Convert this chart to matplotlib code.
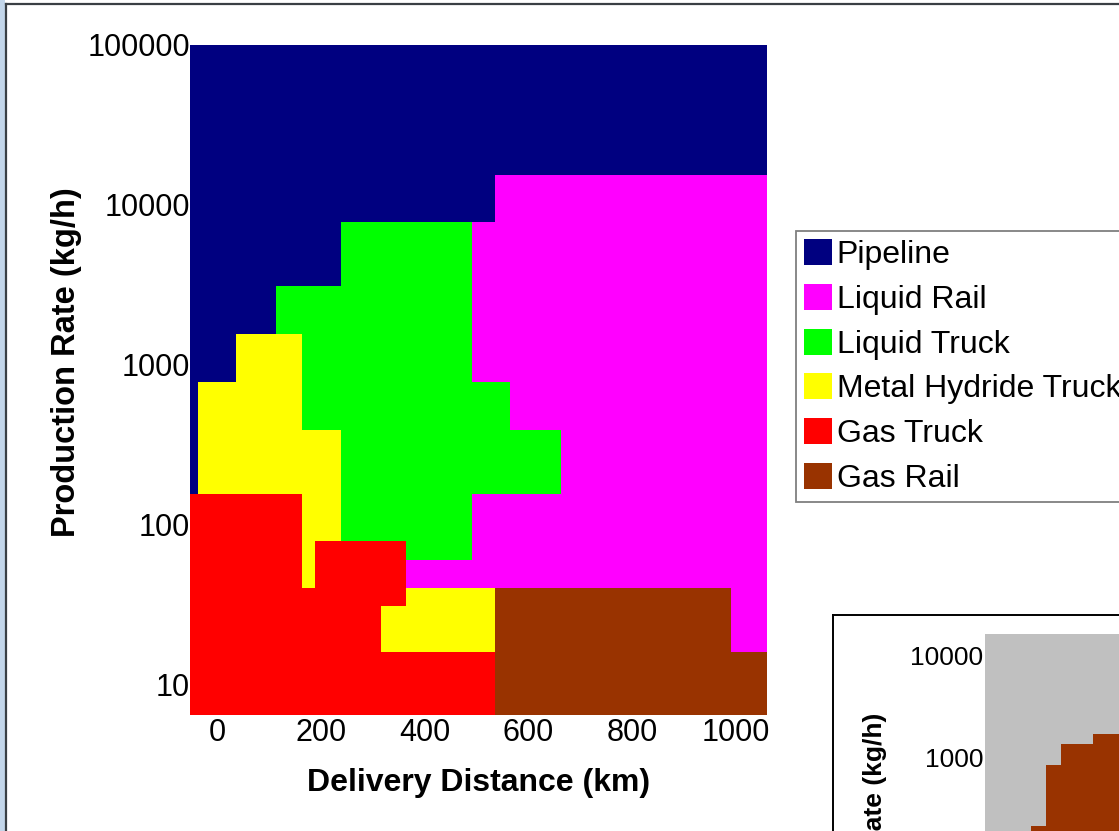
import numpy as np
import matplotlib
matplotlib.use("Agg")
import matplotlib.pyplot as plt
from matplotlib.colors import ListedColormap
from matplotlib.patches import Patch, Rectangle
from matplotlib.lines import Line2D

plt.rcParams['font.family'] = ['Liberation Sans', 'DejaVu Sans']

# delivery options (legend order) and their fill colours
modes = ["Pipeline", "Liquid Rail", "Liquid Truck", "Metal Hydride Truck", "Gas Truck", "Gas Rail"]
mode_colors = ["#000080", "#ff00ff", "#00ff00", "#ffff00", "#ff0000", "#993300"]

# cell edges of the main map
dist_edges = [-53, -38, 36, 113, 163, 188, 238, 316, 364, 491, 536, 565, 663, 991, 1061]
rate_edges = [100000, 15350, 7800, 3100, 1550, 776, 388, 155, 79, 60, 40, 31, 15.8, 6.4]  # top -> bottom

# cheapest mode per cell, rows top -> bottom
# 0 pipeline, 1 liquid rail, 2 liquid truck, 3 metal hydride, 4 gas truck, 5 gas rail
best_mode = [
    [0, 0, 0, 0, 0, 0, 0, 0, 0, 0, 0, 0, 0, 0],
    [0, 0, 0, 0, 0, 0, 0, 0, 0, 0, 1, 1, 1, 1],
    [0, 0, 0, 0, 0, 0, 2, 2, 2, 1, 1, 1, 1, 1],
    [0, 0, 0, 2, 2, 2, 2, 2, 2, 1, 1, 1, 1, 1],
    [0, 0, 3, 3, 2, 2, 2, 2, 2, 1, 1, 1, 1, 1],
    [0, 3, 3, 3, 2, 2, 2, 2, 2, 2, 2, 1, 1, 1],
    [0, 3, 3, 3, 3, 3, 2, 2, 2, 2, 2, 2, 1, 1],
    [4, 4, 4, 4, 3, 3, 2, 2, 2, 1, 1, 1, 1, 1],
    [4, 4, 4, 4, 3, 4, 4, 4, 2, 1, 1, 1, 1, 1],
    [4, 4, 4, 4, 3, 4, 4, 4, 1, 1, 1, 1, 1, 1],
    [4, 4, 4, 4, 4, 4, 4, 4, 3, 3, 5, 5, 5, 1],
    [4, 4, 4, 4, 4, 4, 4, 3, 3, 3, 5, 5, 5, 1],
    [4, 4, 4, 4, 4, 4, 4, 4, 4, 4, 5, 5, 5, 5],
]

# second (partly visible) map: 0 = other, 1 = gas rail
inset_dist_edges = [-53, 88, 134, 179, 277, 1061]
inset_rate_edges = [16500, 1690, 1345, 834, 207, 6.4]
inset_mode = [
    [0, 0, 0, 0, 0],
    [0, 0, 0, 0, 1],
    [0, 0, 0, 1, 1],
    [0, 0, 1, 1, 1],
    [0, 1, 1, 1, 1],
]

W, H = 1119, 831
fig = plt.figure(figsize=(W / 100, H / 100), dpi=100)


def fx(px):
    return px / W


def fy(py):
    return 1 - py / H


# window frame
fig.patches.append(Rectangle((0, 0), fx(5), 1, transform=fig.transFigure,
                             facecolor="#c3d6ea", edgecolor="none", zorder=0))
fig.lines.append(Line2D([fx(5.5), fx(5.5)], [0, fy(3.5)], transform=fig.transFigure,
                        color="#3a3f44", lw=1.6))
fig.lines.append(Line2D([fx(5.5), 1], [fy(3.5), fy(3.5)], transform=fig.transFigure,
                        color="#3a3f44", lw=1.6))

# main map
ax = fig.add_axes([fx(190), fy(715), fx(767 - 190), (715 - 45) / H])
cmap = ListedColormap(mode_colors)
grid = np.flipud(np.array(best_mode))
ax.pcolormesh(dist_edges, rate_edges[::-1], grid, cmap=cmap, vmin=-0.5, vmax=5.5,
              shading="flat", antialiased=False, linewidth=0)
ax.set_yscale("log")
ax.set_xlim(dist_edges[0], dist_edges[-1])
ax.set_ylim(rate_edges[-1], rate_edges[0])
ax.set_yticks([10, 100, 1000, 10000, 100000])
ax.set_yticklabels(["10", "100", "1000", "10000", "100000"])
ax.yaxis.set_minor_locator(matplotlib.ticker.NullLocator())
ax.set_xticks([0, 200, 400, 600, 800, 1000])
ax.tick_params(length=0, labelsize=22, pad=0)
ax.tick_params(axis="x", pad=2)
for s in ax.spines.values():
    s.set_visible(False)
ax.set_xlabel("Delivery Distance (km)", fontsize=23, fontweight="bold", va="center")
ax.xaxis.set_label_coords(0.5, (715 - 783) / 670)
ax.set_ylabel("Production Rate (kg/h)", fontsize=23.5, fontweight="bold", va="center")
ax.yaxis.set_label_coords((67 - 190) / 577, (715 - 362) / 670)

handles = [Patch(facecolor=c, edgecolor="none") for c in mode_colors]
leg = fig.legend(handles, modes, loc="upper left", bbox_to_anchor=(fx(796), fy(231)),
                 bbox_transform=fig.transFigure, fontsize=23, frameon=True, fancybox=False,
                 borderaxespad=0, borderpad=0.25, labelspacing=0.43, handlelength=0.875,
                 handleheight=0.875, handletextpad=0.15)
leg.get_frame().set_edgecolor("#606060")
leg.get_frame().set_linewidth(1.3)

# second chart box, cut off by the figure edge
fig.lines.append(Line2D([fx(833), 1], [fy(615), fy(615)], transform=fig.transFigure,
                        color="black", lw=1.4))
fig.lines.append(Line2D([fx(833), fx(833)], [0, fy(615)], transform=fig.transFigure,
                        color="black", lw=1.4))

ax2 = fig.add_axes([fx(985), fy(979), fx(364), 345 / H])
ax2.pcolormesh(inset_dist_edges, inset_rate_edges[::-1], np.flipud(np.array(inset_mode)),
               cmap=ListedColormap(["#c0c0c0", "#993300"]), vmin=-0.5, vmax=1.5,
               shading="flat", antialiased=False, linewidth=0)
ax2.set_yscale("log")
ax2.set_xlim(inset_dist_edges[0], inset_dist_edges[-1])
ax2.set_ylim(inset_rate_edges[-1], inset_rate_edges[0])
ax2.set_yticks([10, 100, 1000, 10000])
ax2.set_yticklabels(["10", "100", "1000", "10000"])
ax2.yaxis.set_minor_locator(matplotlib.ticker.NullLocator())
ax2.set_xticks([])
ax2.tick_params(length=0, labelsize=19, pad=1)
for s in ax2.spines.values():
    s.set_visible(False)
ax2.set_ylabel("Production Rate (kg/h)", fontsize=19, fontweight="bold", va="center")
ax2.yaxis.set_label_coords(-0.302, 0.36)

fig.savefig("out.png", dpi=100)
